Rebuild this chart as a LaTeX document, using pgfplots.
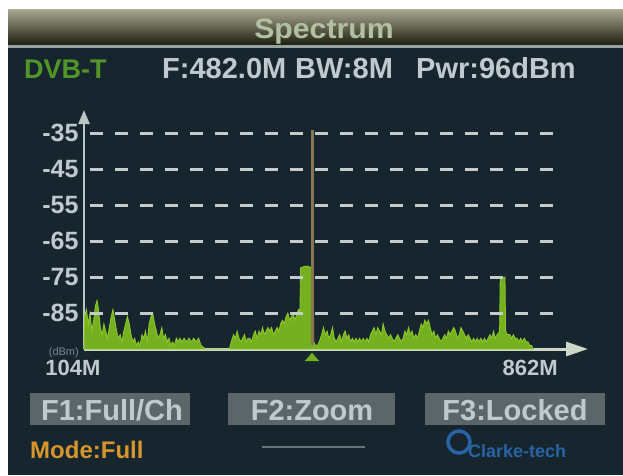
\documentclass[border=0pt]{standalone}
\usepackage{pgfplots}
\pgfplotsset{compat=1.18}
\usepackage{pgfplotstable}
\usepackage{fontspec}
\setmainfont{Liberation Sans}
\usetikzlibrary{arrows.meta}
\definecolor{bg}{RGB}{23,37,46}
\definecolor{grn}{RGB}{116,176,32}
\definecolor{grnedge}{RGB}{142,202,42}
\definecolor{gridc}{RGB}{196,204,204}
\definecolor{axc}{RGB}{205,215,200}
\definecolor{yaxc}{RGB}{185,196,196}
\definecolor{txt}{RGB}{192,202,206}
\definecolor{mk}{RGB}{138,118,78}
\definecolor{btn}{RGB}{92,102,104}
\definecolor{orng}{RGB}{214,150,44}
\definecolor{logo}{RGB}{40,100,165}
\definecolor{ttl}{RGB}{176,192,160}
\definecolor{dvb}{RGB}{80,150,40}
\definecolor{sep}{RGB}{150,162,158}
\definecolor{dbm}{RGB}{120,135,150}
\definecolor{thinc}{RGB}{105,115,120}
\definecolor{tbtop}{RGB}{170,168,146}
\definecolor{tbmid}{RGB}{70,70,50}
\definecolor{tbbot}{RGB}{30,30,16}
\newcommand{\fs}[1]{\fontsize{#1}{#1}\selectfont}

\pgfplotstableread{
f db
104 -95
105 -86
108 -84
111 -88
114 -85
117 -90
120 -87
123 -83
125.6 -81.5
128 -84
131 -89
134 -91
137 -88
140 -90
143 -92
146 -89
149 -86
152 -84
155 -87
158 -90
161 -92
164 -91
167 -93
170 -90
173 -88
176 -86
179 -88
182 -91
185 -93
188 -92
191 -94
194 -93
197 -94
200 -91
203 -92
206 -90
209 -93
212 -88
215 -86
218 -85
221 -88
224 -90
227 -92
230 -91
233 -89
236 -92
239 -91
242 -93
245 -92
248 -94
251 -93
254 -94
257 -92
260 -93
263 -92
266 -93
270 -92
274 -93
278 -92
282 -93
286 -92
290 -93
294 -92
298 -94
302 -94.5
306 -95
345 -95
348 -93
352 -91
355 -92
358 -90
361 -92
364 -93
367 -92
370 -91
373 -93
376 -92
379 -92
382 -93
385 -91
388 -90
391 -92
394 -90
397 -91
400 -89
403 -91
406 -90
409 -89
412 -90
415 -89
418 -91
421 -90
424 -89
427 -90
430 -88
433 -87
436 -88
439 -86
442 -85
445 -87
448 -86
451 -85.5
454 -87
457 -85
460 -84
462 -85
463 -72.5
470 -72
476 -72
481 -72.5
484 -73
485 -93
488 -94
491 -94
494 -93
498 -91
501 -89
504 -91
507 -90
510 -92
513 -91
516 -89
519 -92
522 -93
525 -92
528 -91
531 -93
534 -91
537 -90
540 -92
543 -91
546 -93
549 -92
552 -93
555 -92
558 -93
561 -92
564 -93
567 -92
570 -93
573 -92
576 -93
579 -91
582 -90
585 -89
588 -91
591 -89
594 -90
597 -91
600 -88
603 -90
606 -91
609 -92
612 -91
615 -92
618 -93
621 -92
624 -91
627 -92
630 -93
633 -92
636 -90
639 -91
642 -89
645 -91
648 -90
651 -92
654 -91
657 -92
660 -90
663 -88
666 -89
669 -87
672 -88
675 -87
678 -89
681 -91
684 -90
687 -92
690 -91
693 -92
696 -93
699 -92
702 -91
705 -92
708 -90
711 -91
714 -90
717 -89
720 -90
723 -92
726 -91
729 -89
732 -90
735 -91
738 -92
741 -91
744 -92
747 -93
750 -92
753 -93
756 -92
759 -93
762 -92
765 -93
768 -92
771 -93
774 -92
777 -91
780 -92
783 -90
786 -92
789 -91
793 -90
794 -75.5
802 -75
803 -90
806 -91
810 -91
813 -92
816 -91
819 -92
822 -92
825 -93
828 -92
831 -93
834 -92
837 -93
840 -93
843 -94
846 -94
849 -95
}\spectrum

\begin{document}
\begin{tikzpicture}
\begin{scope}[x=1pt,y=-1pt]
\fill[white] (0,0) rectangle (623,475);
\fill[bg] (8,9) rectangle (623,475);
\shade[top color=tbtop, middle color=tbmid, bottom color=tbbot] (8,9) rectangle (623,45);
\fill[sep] (8,45) rectangle (623,48);
\node[anchor=base, text=ttl, font=\bfseries\fs{28}, inner sep=0, xscale=1.08] at (324,38) {Spectrum};
\node[anchor=base west, text=dvb, font=\bfseries\fs{27}, inner sep=0] at (24,78) {DVB-T};
\node[anchor=base west, text=txt, font=\bfseries\fs{29}, inner sep=0] at (162,78) {F:482.0M};
\node[anchor=base west, text=txt, font=\bfseries\fs{29}, inner sep=0] at (295,78) {BW:8M};
\node[anchor=base west, text=txt, font=\bfseries\fs{29}, inner sep=0] at (416,78) {Pwr:96dBm};
\node[anchor=base east, text=dbm, font=\fs{11}, inner sep=0] at (79,355) {(dBm)};
\fill[btn] (30,393) rectangle (190,425);
\fill[btn] (228,393) rectangle (395,425);
\fill[btn] (425,393) rectangle (605,425);
\node[anchor=base, text=txt, font=\bfseries\fs{29}, inner sep=0] at (112,420) {F1:Full/Ch};
\node[anchor=base, text=txt, font=\bfseries\fs{29}, inner sep=0] at (312,420) {F2:Zoom};
\node[anchor=base, text=txt, font=\bfseries\fs{29}, inner sep=0] at (515,420) {F3:Locked};
\node[anchor=base west, text=orng, font=\bfseries\fs{24}, inner sep=0] at (30,458) {Mode:Full};
\draw[thinc, line width=1.5pt] (262,447) -- (365,447);
\draw[logo, line width=3.5pt] (459,442) circle (11);
\node[anchor=base west, text=logo, font=\bfseries\fs{18}, inner sep=0] at (468,457) {Clarke-tech};
\end{scope}
\begin{axis}[
  at={(84pt,-349pt)}, anchor=south west,
  scale only axis, width=504pt, height=239pt,
  xmin=104, xmax=939.6, ymin=-95, ymax=-28.6,
  axis x line=bottom, axis y line=left,
  x axis line style={draw=axc, line width=3pt, -{Triangle[length=22pt,width=14pt]}},
  y axis line style={draw=yaxc, line width=2.5pt, -{Triangle[length=14pt,width=11pt]}},
  ytick={-85,-75,-65,-55,-45,-35},
  yticklabels={-85,-75,-65,-55,-45,-35},
  xtick={104,862}, xticklabels={104M,862M},
  major tick length=0pt, tick style={draw=none},
  yticklabel style={font=\bfseries\fs{25}, text=txt, xshift=-2pt},
  xticklabel style={font=\bfseries\fs{22}, text=txt, xshift=-11pt, yshift=-8pt},
  clip=false,
]
\addplot[fill=grn, draw=grnedge, line width=0.8pt] table[x=f,y=db] {\spectrum} -- cycle;
\addplot[gridc, line width=3pt, dash pattern=on 13pt off 12pt] coordinates {(114,-35) (898,-35)};
\addplot[gridc, line width=3pt, dash pattern=on 13pt off 12pt] coordinates {(114,-45) (898,-45)};
\addplot[gridc, line width=3pt, dash pattern=on 13pt off 12pt] coordinates {(114,-55) (898,-55)};
\addplot[gridc, line width=3pt, dash pattern=on 13pt off 12pt] coordinates {(114,-65) (898,-65)};
\addplot[gridc, line width=3pt, dash pattern=on 13pt off 12pt] coordinates {(114,-75) (898,-75)};
\addplot[gridc, line width=3pt, dash pattern=on 13pt off 12pt] coordinates {(114,-85) (898,-85)};
\addplot[mk, line width=3pt] coordinates {(482,-34.2) (482,-94)};
\addplot[only marks, mark=triangle*, mark size=8pt, grn, mark options={yscale=0.65}] coordinates {(482,-97.6)};
\end{axis}
\end{tikzpicture}
\end{document}
